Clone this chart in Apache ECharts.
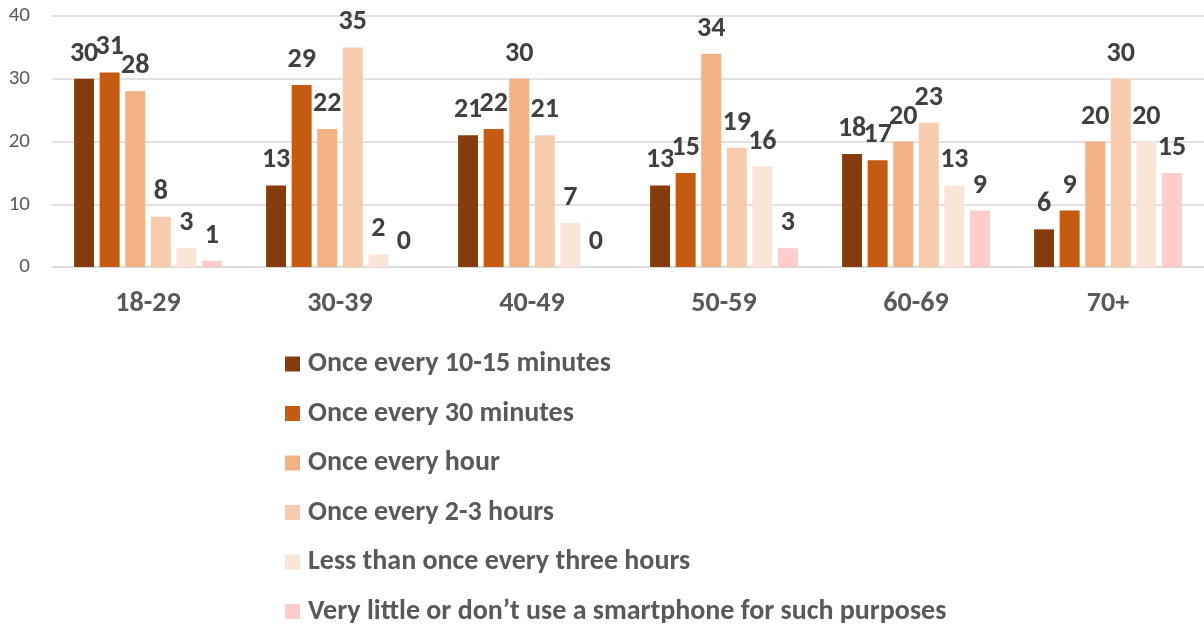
<!DOCTYPE html>
<html>
<head>
<meta charset="utf-8">
<script src="https://cdn.jsdelivr.net/npm/echarts@6/dist/echarts.min.js"></script>
<style>
html,body{margin:0;padding:0;background:#fff;}
#chart{width:1204px;height:627px;}
</style>
</head>
<body>
<div id="chart"></div>
<script>
const categories = ['18-29', '30-39', '40-49', '50-59', '60-69', '70+'];
const seriesNames = [
  'Once every 10-15 minutes',
  'Once every 30 minutes',
  'Once every hour',
  'Once every 2-3 hours',
  'Less than once every three hours',
  'Very little or don\u2019t use a smartphone for such purposes'
];
const every10to15 = [30, 13, 21, 13, 18, 6];
const every30 = [31, 29, 22, 15, 17, 9];
const everyHour = [28, 22, 30, 34, 20, 20];
const every2to3 = [8, 35, 21, 19, 23, 30];
const lessThan3h = [3, 2, 7, 16, 13, 20];
const veryLittle = [1, 0, 0, 3, 9, 15];
const yTicks = [0, 10, 20, 30, 40];

const colors = ['#843C0C', '#C55A11', '#F4B183', '#F8CBAD', '#FBE5D6', '#FFCCCC'];
const FONT = "Carlito, Lato, sans-serif";
const seriesData = [every10to15, every30, everyHour, every2to3, lessThan3h, veryLittle];

const chart = echarts.init(document.getElementById('chart'));
chart.setOption({
  animation: false,
  color: colors,
  grid: { left: 52, right: 0, top: 16, bottom: 360, containLabel: false },
  xAxis: {
    type: 'category',
    data: categories,
    axisLine: { show: true, lineStyle: { color: '#D9D9D9', width: 1.5 } },
    axisTick: { show: false },
    axisLabel: { color: '#595959', fontFamily: FONT, fontWeight: 'bold', fontSize: 28, margin: 23 }
  },
  yAxis: {
    type: 'value',
    min: yTicks[0],
    max: yTicks[yTicks.length - 1],
    interval: 10,
    axisLine: { show: false },
    axisTick: { show: false },
    splitLine: { lineStyle: { color: '#D9D9D9', width: 1.5 } },
    axisLabel: { color: '#595959', fontFamily: FONT, fontSize: 21, margin: 22 }
  },
  legend: {
    orient: 'vertical',
    left: 280,
    top: 345,
    height: 300,
    itemWidth: 15,
    itemHeight: 15,
    itemGap: 21.5,
    icon: 'rect',
    textStyle: { color: '#595959', fontFamily: FONT, fontWeight: 'bold', fontSize: 28, lineHeight: 28, padding: [0, 0, 0, 3] },
    data: seriesNames
  },
  series: seriesNames.map((name, i) => ({
    name: name,
    type: 'bar',
    data: seriesData[i],
    barGap: '28%',
    barCategoryGap: '23%',
    itemStyle: { color: colors[i] },
    label: {
      show: true,
      position: 'top',
      distance: 11,
      color: '#404040',
      fontFamily: FONT,
      fontWeight: 'bold',
      fontSize: 28
    }
  }))
});
</script>
</body>
</html>
